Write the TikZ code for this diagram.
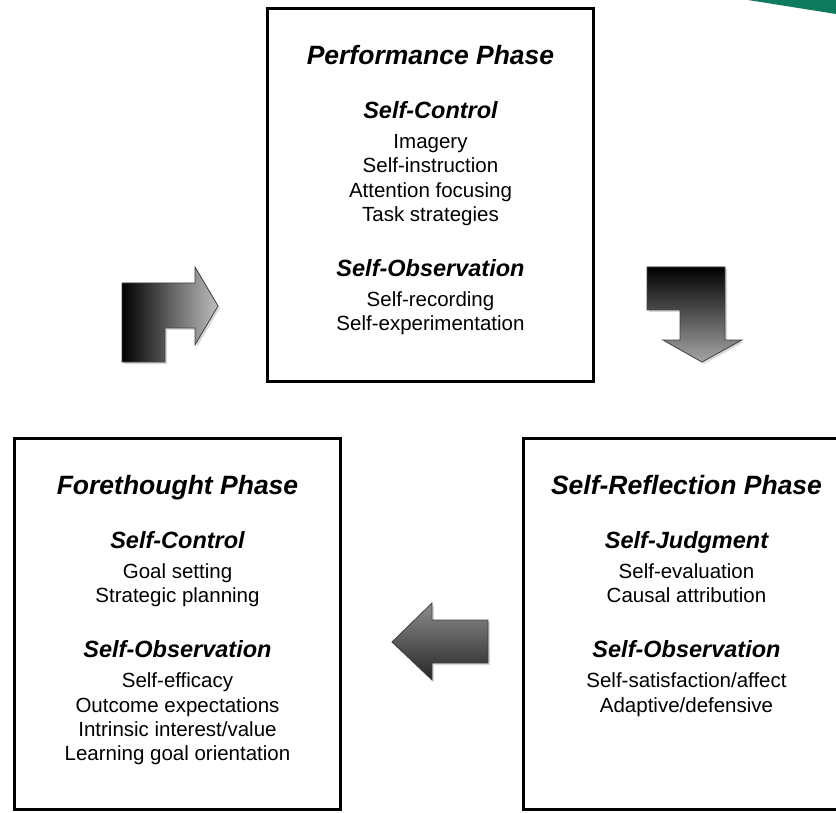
\documentclass[tikz,border=0pt]{standalone}
\usepackage{fontspec}
\setmainfont{Liberation Sans}
\usetikzlibrary{positioning,shadows}
\definecolor{cornergreen}{RGB}{14,122,94}
\newcommand\phasehead[1]{{\fontsize{26.5}{24.3}\selectfont\bfseries\itshape #1}}
\newcommand\subhead[1]{{\fontsize{23.5}{24.3}\selectfont\bfseries\itshape #1}}

\begin{document}
\begin{tikzpicture}[x=1pt,y=-1pt,
    phasebox/.style={rectangle, draw=black, line width=3pt, fill=white, minimum width=326pt, minimum height=373pt, inner sep=0pt, drop shadow={shadow xshift=1.5pt, shadow yshift=-1.5pt, opacity=0.35}},
    phasetext/.style={align=center, inner sep=0pt, font=\fontsize{20.5}{24.3}\selectfont},
    blockarrow/.style={draw=black!75, line width=0.8pt, drop shadow={shadow xshift=2pt, shadow yshift=-2pt, opacity=0.3}}]
    \useasboundingbox (0,0) rectangle (836,813);
    \fill[cornergreen] (748,0) -- (836,14) -- (836,0) -- cycle;
    %Boxes
    \node[phasebox]                        (perf) at (430.5,195) {};
    \node[phasebox, minimum height=371pt]  (fore) at (177.5,624) {};
    \node[phasebox, minimum height=371pt]  (refl) at (686.5,624) {};
    %Texts
    \node[phasetext] (perftext) [below=38pt of perf.north] {\phasehead{Performance Phase}\\[29.8pt]
        \subhead{Self-Control}\\[5.8pt] Imagery\\ Self-instruction\\ Attention focusing\\ Task strategies\\[30.5pt]
        \subhead{Self-Observation}\\[5.8pt] Self-recording\\ Self-experimentation};
    \node[phasetext] (foretext) [below=38pt of fore.north] {\phasehead{Forethought Phase}\\[29.8pt]
        \subhead{Self-Control}\\[5.8pt] Goal setting\\ Strategic planning\\[30.5pt]
        \subhead{Self-Observation}\\[5.8pt] Self-efficacy\\ Outcome expectations\\ Intrinsic interest/value\\ Learning goal orientation};
    \node[phasetext] (refltext) [below=38pt of refl.north] {\phasehead{Self-Reflection Phase}\\[29.8pt]
        \subhead{Self-Judgment}\\[5.8pt] Self-evaluation\\ Causal attribution\\[30.5pt]
        \subhead{Self-Observation}\\[5.8pt] Self-satisfaction/affect\\ Adaptive/defensive};
    %Arrows
    \path[blockarrow, left color=black, right color=black!25] (122,362) -- (122,283) -- (195,283) -- (195,267) -- (218,306) -- (195,345) -- (195,328) -- (165,328) -- (165,362) -- cycle;
    \path[blockarrow, top color=black, bottom color=black!35] (647,267) -- (725,267) -- (725,340) -- (742,340) -- (702,362) -- (663,340) -- (680,340) -- (680,310) -- (647,310) -- cycle;
    \path[blockarrow, top color=black!45, bottom color=black!85] (392,642) -- (432,603) -- (432,620) -- (488,620) -- (488,663) -- (432,663) -- (432,680) -- cycle;
\end{tikzpicture}
\end{document}
